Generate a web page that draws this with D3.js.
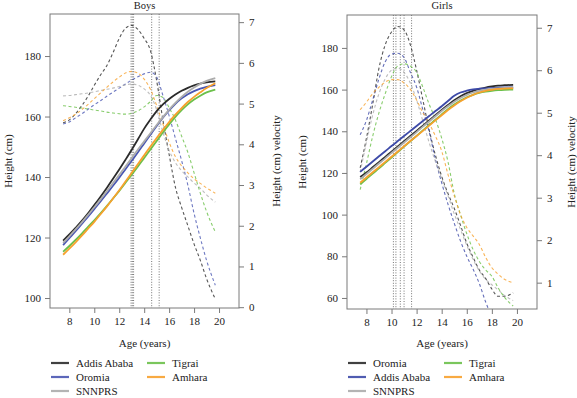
<!DOCTYPE html>
<html><head><meta charset="utf-8">
<script src="https://cdn.jsdelivr.net/npm/d3@7"></script>
<style>body{margin:0;background:#fff}svg{display:block}svg text{font-family:"Liberation Serif","Times New Roman","DejaVu Serif",serif}</style>
</head><body><svg id="c" width="577" height="398"></svg>
<script>
const ages = [7.5,8,8.5,9,9.5,10,10.5,11,11.5,12,12.5,13,13.5,14,14.5,15,15.5,16,16.5,17,17.5,18,18.5,19,19.7];
const xTicks = [8,10,12,14,16,18,20];
const boysHeightTicks = [100,120,140,160,180];
const boysVelTicks = [0,1,2,3,4,5,6,7];
const girlsHeightTicks = [60,80,100,120,140,160,180];
const girlsVelTicks = [1,2,3,4,5,6,7];

// Boys
const boysRegions = ["Addis Ababa","Oromia","SNNPRS","Tigrai","Amhara"];
const boysColors = ["#2b2b2b","#4a57b3","#acacac","#6cc04a","#f7a12d"];
const boysHeightAddis = [119,121,123.2,125.5,128,130.7,133.5,136.4,139.4,142.5,145.7,149,152.5,156,159,161.8,164,165.8,167.3,168.5,169.5,170.3,170.9,171.3,171.6];
const boysHeightOromia = [117.5,119.8,122.1,124.5,126.9,129.4,131.9,134.5,137.1,139.8,142.6,145.4,148.2,151.1,154,156.9,159.6,162,164.2,166,167.4,168.4,169.2,169.8,170.4];
const boysHeightSNNPRS = [118.2,120.4,122.7,125,127.5,130,132.6,135.3,138,140.7,143.5,146.3,149.1,151.8,154.5,157.2,159.8,162.3,164.5,166.5,168.2,169.6,170.8,171.8,172.7];
const boysHeightTigrai = [115.3,117.2,119.2,121.3,123.5,125.7,128,130.4,132.9,135.4,138.1,140.8,143.5,146.3,149.1,151.9,154.7,157.4,159.9,162.1,164,165.6,166.9,168,168.9];
const boysHeightAmhara = [114.3,116.3,118.4,120.6,122.9,125.2,127.7,130.2,132.9,135.6,138.5,141.4,144.3,147.2,150.1,152.9,155.6,158.2,160.6,162.8,164.8,166.5,168,169.4,171];
const boysVelAddis = [4.53,4.6,4.75,4.95,5.18,5.45,5.7,5.93,6.25,6.6,6.85,6.92,6.82,6.6,6.3,5.56,4.6,3.75,2.95,2.45,2.0,1.55,1.15,0.7,0.2];
const boysVelOromia = [4.5,4.55,4.65,4.75,4.86,4.97,5.07,5.18,5.28,5.38,5.48,5.58,5.66,5.73,5.77,5.65,5.2,4.7,4.15,3.6,3.0,2.3,1.7,1.15,0.54];
const boysVelSNNPRS = [5.19,5.2,5.22,5.24,5.26,5.29,5.32,5.35,5.38,5.42,5.46,5.48,5.45,5.36,5.2,4.85,4.3,3.85,3.55,3.35,3.2,3.05,2.92,2.76,2.58];
const boysVelTigrai = [4.95,4.93,4.91,4.89,4.87,4.84,4.82,4.79,4.77,4.75,4.74,4.76,4.82,4.92,5.05,5.2,5.15,4.9,4.6,4.2,3.8,3.3,2.8,2.35,1.85];
const boysVelAmhara = [4.58,4.65,4.74,4.85,4.98,5.12,5.26,5.4,5.53,5.65,5.75,5.79,5.75,5.6,5.35,4.95,4.5,4.05,3.7,3.47,3.3,3.15,3.04,2.93,2.8];
const boysPeakAges = [12.95,13.05,13.15,14.6,15.2];

// Girls
const girlsRegions = ["Oromia","Addis Ababa","SNNPRS","Tigrai","Amhara"];
const girlsColors = ["#2b2b2b","#3d4aa8","#acacac","#6cc04a","#f7a12d"];
const girlsHeightOromia = [118,120.2,122.7,125.2,127.7,130.2,132.7,135.2,137.7,140.2,142.7,145.2,147.7,150.2,152.6,154.9,156.8,158.3,159.4,160.3,161,161.5,161.9,162.1,162.3];
const girlsHeightAddis = [120.5,123,125.5,128,130.4,132.9,135.3,137.7,140.1,142.5,144.9,147.3,149.7,152,154.5,157,158.6,159.5,160.1,160.4,160.6,160.8,160.9,161,161];
const girlsHeightSNNPRS = [117,119.5,122,124.5,127,129.6,132.1,134.6,137.1,139.6,142.2,144.7,147.2,149.7,152,154.2,156,157.5,158.6,159.4,160,160.4,160.6,160.8,160.9];
const girlsHeightTigrai = [114.5,117.1,119.7,122.2,124.8,127.4,130,132.6,135.2,137.8,140.4,143,145.5,148.1,150.6,152.8,154.7,156.3,157.5,158.4,159,159.4,159.7,159.9,160];
const girlsHeightAmhara = [115.3,117.8,120.3,122.8,125.3,127.8,130.3,132.8,135.3,137.7,140.2,142.7,145.2,147.7,150.2,152.4,154.4,156.1,157.5,158.6,159.4,159.9,160.3,160.5,160.6];
const girlsVelOromia = [3.7,4.4,5.2,6.05,6.6,6.9,7.03,6.95,6.6,6.0,5.3,4.6,4.0,3.5,3.1,2.75,2.35,1.93,1.6,1.3,1.1,0.85,0.68,0.68,0.76];
const girlsVelAddis = [4.48,4.82,5.3,5.8,6.2,6.38,6.4,6.3,5.95,5.6,5.07,4.55,3.9,3.35,2.85,2.4,1.98,1.62,1.32,0.98,0.55,0.2,-0.1,-0.3,-0.45];
const girlsVelSNNPRS = [3.6,4.3,4.95,5.45,5.8,6.0,6.05,5.95,5.7,5.3,4.8,4.3,3.85,3.45,3.05,2.62,2.25,1.88,1.55,1.28,1.08,0.95,0.83,0.7,0.58];
const girlsVelTigrai = [3.19,3.8,4.45,5.0,5.45,5.85,6.1,6.15,6.1,5.95,5.6,5.2,4.85,4.4,3.85,3.1,2.6,2.15,1.78,1.5,1.3,1.15,0.88,0.66,0.45];
const girlsVelAmhara = [5.07,5.25,5.45,5.6,5.72,5.78,5.78,5.7,5.55,5.3,5.0,4.75,4.45,4.1,3.55,3.05,2.6,2.3,2.1,1.9,1.6,1.35,1.2,1.08,1.0];
const girlsPeakAges = [10.15,10.35,10.7,11.0,11.6];

const svg = d3.select("#c");
const AX = "#7a7a7a";

function panel(cfg){
  const x = d3.scaleLinear().domain([6.45,21.6]).range([cfg.x0,cfg.x1]);
  const yH = d3.scaleLinear().domain(cfg.hDom).range([cfg.y1,cfg.y0]);
  const yV = d3.scaleLinear().domain(cfg.vDom).range([cfg.y1,cfg.y0]);
  const g = svg.append("g");
  const cid = "clip"+cfg.id;
  svg.append("clipPath").attr("id",cid).append("rect")
    .attr("x",cfg.x0).attr("y",cfg.y0).attr("width",cfg.x1-cfg.x0).attr("height",cfg.y1-cfg.y0);
  const plot = g.append("g").attr("clip-path",`url(#${cid})`);
  plot.selectAll("line.pk").data(cfg.peaks).join("line")
    .attr("x1",d=>x(d)).attr("x2",d=>x(d)).attr("y1",cfg.y0).attr("y2",cfg.y1)
    .attr("stroke","#666").attr("stroke-width",0.9).attr("stroke-dasharray","1,1.6");
  const lineH = d3.line().x((d,i)=>x(ages[i])).y(d=>yH(d)).curve(d3.curveMonotoneX);
  const lineV = d3.line().x((d,i)=>x(ages[i])).y(d=>yV(d)).curve(d3.curveMonotoneX);
  cfg.vel.forEach((s,k)=>{
    plot.append("path").attr("d",lineV(s)).attr("fill","none")
      .attr("stroke",cfg.colors[k]).attr("stroke-opacity",0.8).attr("stroke-width",1.1)
      .attr("stroke-dasharray","3,2.5");
  });
  cfg.height.forEach((s,k)=>{
    plot.append("path").attr("d",lineH(s)).attr("fill","none")
      .attr("stroke",cfg.colors[k]).attr("stroke-width",1.8);
  });
  g.append("rect").attr("x",cfg.x0).attr("y",cfg.y0).attr("width",cfg.x1-cfg.x0).attr("height",cfg.y1-cfg.y0)
    .attr("fill","none").attr("stroke",AX).attr("stroke-width",1);
  const fmt = d3.format("d");
  const ax = g.append("g").attr("transform",`translate(0,${cfg.y1})`)
    .call(d3.axisBottom(x).tickValues(xTicks).tickFormat(fmt).tickSize(5).tickPadding(4));
  const al = g.append("g").attr("transform",`translate(${cfg.x0},0)`)
    .call(d3.axisLeft(yH).tickValues(cfg.hTicks).tickFormat(fmt).tickSize(5).tickPadding(4));
  const ar = g.append("g").attr("transform",`translate(${cfg.x1},0)`)
    .call(d3.axisRight(yV).tickValues(cfg.vTicks).tickFormat(fmt).tickSize(5).tickPadding(5));
  [ax,al,ar].forEach(a=>{
    a.attr("font-family",null);
    a.select(".domain").remove();
    a.selectAll("line").attr("stroke",AX);
    a.selectAll("text").attr("font-size",11).attr("fill","#222");
  });
  g.append("text").attr("x",(cfg.x0+cfg.x1)/2).attr("y",9).attr("text-anchor","middle")
    .attr("font-size",10.5).attr("fill","#222").text(cfg.title);
  g.append("text").attr("transform",`translate(${cfg.lx},${(cfg.y0+cfg.y1)/2}) rotate(-90)`)
    .attr("text-anchor","middle").attr("dy","0.35em")
    .attr("font-size",11).attr("fill","#222").text("Height (cm)");
  g.append("text").attr("transform",`translate(${cfg.rx},${(cfg.y0+cfg.y1)/2}) rotate(-90)`)
    .attr("text-anchor","middle").attr("dy","0.35em")
    .attr("font-size",11).attr("fill","#222").text("Height (cm) velocity");
  g.append("text").attr("x",(cfg.x0+cfg.x1)/2).attr("y",347).attr("text-anchor","middle")
    .attr("font-size",11).attr("fill","#222").text("Age (years)");
  const cols = [cfg.x0, cfg.x0+96];
  const rows = [363,377,391];
  const pos = [[0,0],[0,1],[0,2],[1,0],[1,1]];
  cfg.regions.forEach((r,k)=>{
    const px = cols[pos[k][0]], py = rows[pos[k][1]];
    g.append("line").attr("x1",px+1).attr("x2",px+19).attr("y1",py).attr("y2",py)
      .attr("stroke",cfg.colors[k]).attr("stroke-width",2.2).attr("stroke-opacity",0.9);
    g.append("text").attr("x",px+26).attr("y",py).attr("dy","0.35em")
      .attr("font-size",11).attr("fill","#222").text(r);
  });
}

panel({id:"b",title:"Boys",x0:50,x1:239,y0:14,y1:308,hDom:[96.7,193.9],vDom:[-0.02,7.2],
  hTicks:boysHeightTicks,vTicks:boysVelTicks,lx:8,rx:276,peaks:boysPeakAges,
  regions:boysRegions,colors:boysColors,
  height:[boysHeightAddis,boysHeightOromia,boysHeightSNNPRS,boysHeightTigrai,boysHeightAmhara],
  vel:[boysVelAddis,boysVelOromia,boysVelSNNPRS,boysVelTigrai,boysVelAmhara]});
panel({id:"g",title:"Girls",x0:347,x1:537,y0:15,y1:309,hDom:[54.7,195.8],vDom:[0.38,7.3],
  hTicks:girlsHeightTicks,vTicks:girlsVelTicks,lx:302,rx:571,peaks:girlsPeakAges,
  regions:girlsRegions,colors:girlsColors,
  height:[girlsHeightOromia,girlsHeightAddis,girlsHeightSNNPRS,girlsHeightTigrai,girlsHeightAmhara],
  vel:[girlsVelOromia,girlsVelAddis,girlsVelSNNPRS,girlsVelTigrai,girlsVelAmhara]});
</script></body></html>
